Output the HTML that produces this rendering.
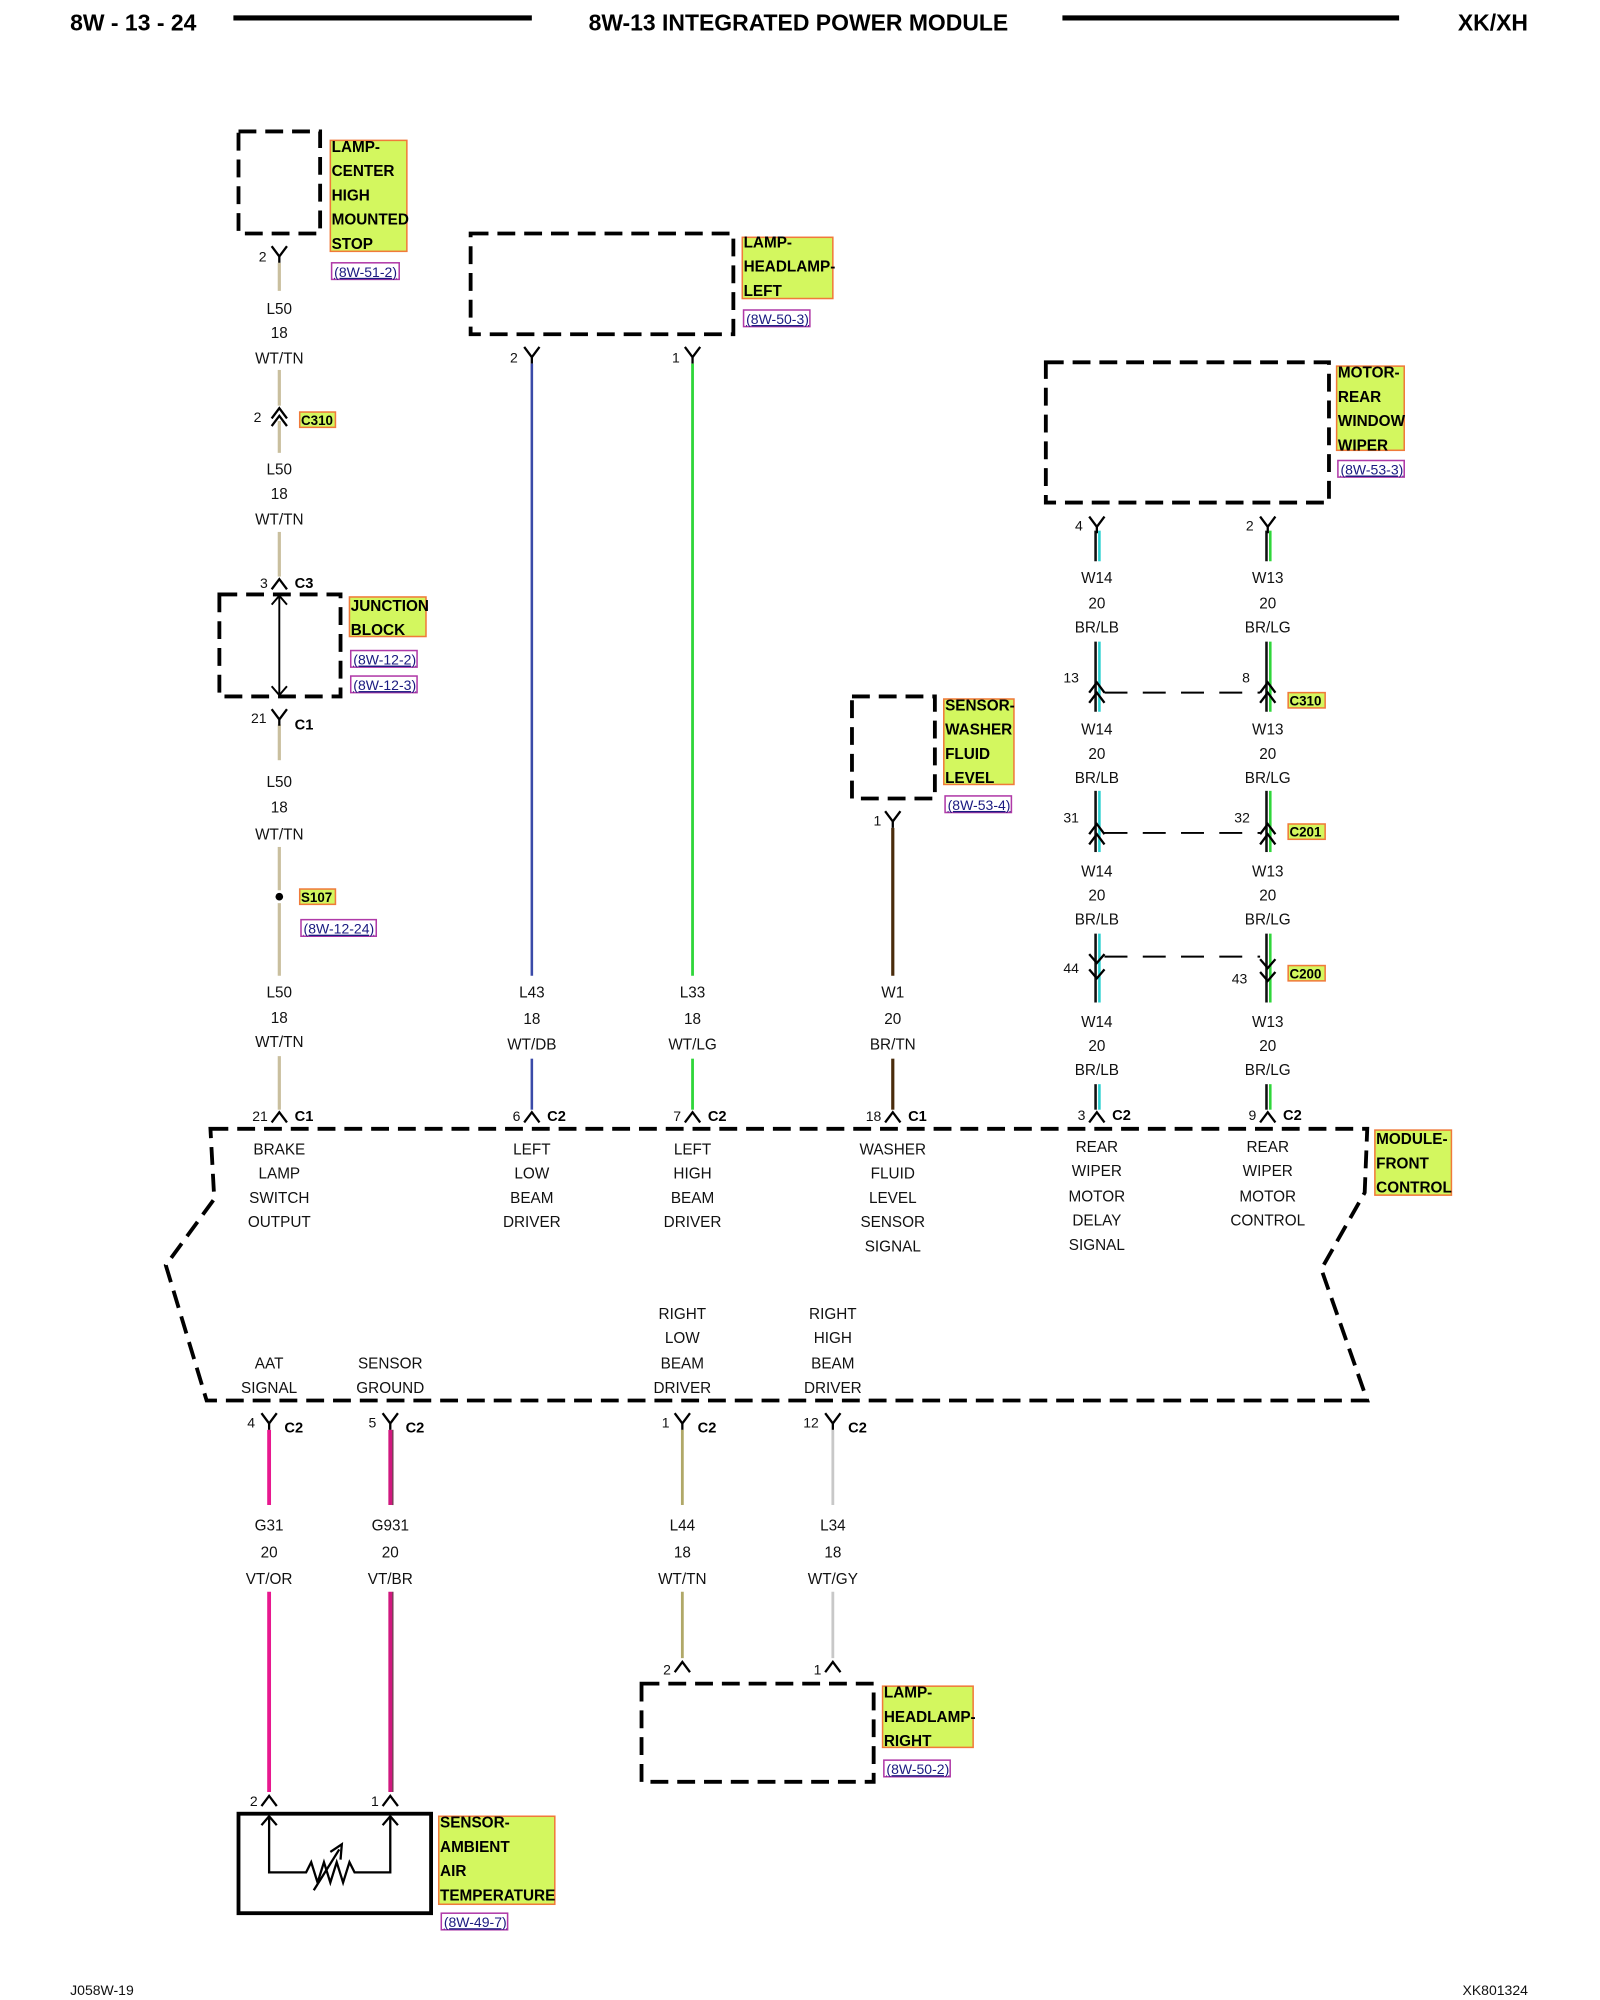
<!DOCTYPE html>
<html><head><meta charset="utf-8">
<style>
html,body{margin:0;padding:0;background:#fff;width:1600px;height:2000px;overflow:hidden}
svg{display:block}
.t{font-family:"Liberation Sans",sans-serif;font-size:12px;text-anchor:middle;fill:#111}
.n{font-family:"Liberation Sans",sans-serif;font-size:11px;text-anchor:end;fill:#111}
.c{font-family:"Liberation Sans",sans-serif;font-size:11.5px;font-weight:bold;fill:#000}
.lb{font-family:"Liberation Sans",sans-serif;font-size:12px;font-weight:bold;fill:#000}
.rf{font-family:"Liberation Sans",sans-serif;font-size:11px;fill:#1a1a80;text-decoration:underline}
.h{font-family:"Liberation Sans",sans-serif;font-size:18px;font-weight:bold;fill:#000}
.y{fill:#d3f75f;stroke:#f07a3a;stroke-width:1.2}
.r{fill:#fff;stroke:#b03aa8;stroke-width:1.2}
.d{fill:none;stroke:#000;stroke-width:3;stroke-dasharray:14,7}
.k{fill:none;stroke:#000;stroke-width:1.8}
</style></head><body>
<svg width="1600" height="2000" viewBox="0 0 1254.5 1568" xmlns="http://www.w3.org/2000/svg">
<defs>
<path id="Y" d="M-6,-6 L0,2 L6,-6 M0,2 V7" fill="none" stroke="#000" stroke-width="1.8"/>
<path id="A" d="M-6,5 L0,-3 L6,5" fill="none" stroke="#000" stroke-width="1.8"/>
</defs>
<!-- header -->
<text class="h" x="55" y="24">8W - 13 - 24</text>
<line x1="183" y1="14" x2="417" y2="14" stroke="#000" stroke-width="4"/>
<text class="h" x="626" y="24" text-anchor="middle">8W-13 INTEGRATED POWER MODULE</text>
<line x1="833" y1="14" x2="1097" y2="14" stroke="#000" stroke-width="4"/>
<text class="h" x="1198" y="24" text-anchor="end">XK/XH</text>
<text class="t" x="55" y="1564" style="text-anchor:start;font-size:11px">J058W-19</text>
<text class="t" x="1198" y="1564" style="text-anchor:end;font-size:11px">XK801324</text>

<!-- CHMSL -->
<rect class="d" x="187" y="103" width="64" height="80"/>
<rect class="y" x="259" y="110" width="60" height="87"/>
<text class="lb" x="260" y="119">LAMP-</text><text class="lb" x="260" y="138">CENTER</text><text class="lb" x="260" y="157">HIGH</text><text class="lb" x="260" y="176">MOUNTED</text><text class="lb" x="260" y="195">STOP</text>
<rect class="r" x="260" y="206" width="53" height="13"/><text class="rf" x="262" y="217">(8W-51-2)</text>
<use href="#Y" x="219" y="199"/><text class="n" x="209" y="205">2</text>
<g stroke="#c9bf9e" stroke-width="2.5">
<line x1="219" y1="206" x2="219" y2="228"/><line x1="219" y1="290" x2="219" y2="318"/><line x1="219" y1="330" x2="219" y2="355"/>
<line x1="219" y1="417" x2="219" y2="452"/><line x1="219" y1="568" x2="219" y2="596"/><line x1="219" y1="664" x2="219" y2="698"/>
<line x1="219" y1="708" x2="219" y2="765"/><line x1="219" y1="828" x2="219" y2="870"/>
</g>
<text class="t" x="219" y="246">L50</text><text class="t" x="219" y="265">18</text><text class="t" x="219" y="285">WT/TN</text>
<use href="#A" x="219" y="323"/><use href="#A" x="219" y="329"/><text class="n" x="205" y="331">2</text>
<rect class="y" x="235" y="323" width="28" height="12"/><text class="c" x="236" y="333" style="font-size:10.5px">C310</text>
<text class="t" x="219" y="372">L50</text><text class="t" x="219" y="391">18</text><text class="t" x="219" y="411">WT/TN</text>
<use href="#A" x="219" y="457"/><text class="n" x="210" y="461">3</text><text class="c" x="231" y="461">C3</text>
<rect class="d" x="172" y="466" width="95" height="80"/>
<line x1="219" y1="468" x2="219" y2="544" stroke="#000" stroke-width="1.5"/>
<path d="M213,474 L219,467 L225,474 M213,538 L219,545 L225,538" fill="none" stroke="#000" stroke-width="1.5"/>
<rect class="y" x="274" y="468" width="60" height="31"/>
<text class="lb" x="275" y="479">JUNCTION</text><text class="lb" x="275" y="498">BLOCK</text>
<rect class="r" x="275" y="510" width="52" height="13"/><text class="rf" x="277" y="521">(8W-12-2)</text>
<rect class="r" x="275" y="530" width="52" height="13"/><text class="rf" x="277" y="541">(8W-12-3)</text>
<use href="#Y" x="219" y="562"/><text class="n" x="209" y="567">21</text><text class="c" x="231" y="572">C1</text>
<text class="t" x="219" y="617">L50</text><text class="t" x="219" y="637">18</text><text class="t" x="219" y="658">WT/TN</text>
<circle cx="219" cy="703" r="3" fill="#000"/>
<rect class="y" x="235" y="697" width="28" height="12"/><text class="c" x="236" y="707" style="font-size:10.5px">S107</text>
<rect class="r" x="236" y="721" width="59" height="13"/><text class="rf" x="238" y="732">(8W-12-24)</text>
<text class="t" x="219" y="782">L50</text><text class="t" x="219" y="802">18</text><text class="t" x="219" y="821">WT/TN</text>
<use href="#A" x="219" y="875"/><text class="n" x="210" y="879">21</text><text class="c" x="231" y="879">C1</text>

<!-- Headlamp left -->
<rect class="d" x="369" y="183" width="206" height="79"/>
<rect class="y" x="582" y="186" width="71" height="48"/>
<text class="lb" x="583" y="194">LAMP-</text><text class="lb" x="583" y="213">HEADLAMP-</text><text class="lb" x="583" y="232">LEFT</text>
<rect class="r" x="583" y="243" width="52" height="13"/><text class="rf" x="585" y="254">(8W-50-3)</text>
<use href="#Y" x="417" y="278"/><text class="n" x="406" y="284">2</text>
<use href="#Y" x="543" y="278"/><text class="n" x="533" y="284">1</text>
<line x1="417" y1="285" x2="417" y2="765" stroke="#3a4aa8" stroke-width="2"/>
<line x1="543" y1="285" x2="543" y2="765" stroke="#2fd63a" stroke-width="2.2"/>
<line x1="417" y1="830" x2="417" y2="870" stroke="#3a4aa8" stroke-width="2"/>
<line x1="543" y1="830" x2="543" y2="870" stroke="#2fd63a" stroke-width="2.2"/>
<text class="t" x="417" y="782">L43</text><text class="t" x="417" y="803">18</text><text class="t" x="417" y="823">WT/DB</text>
<text class="t" x="543" y="782">L33</text><text class="t" x="543" y="803">18</text><text class="t" x="543" y="823">WT/LG</text>
<use href="#A" x="417" y="875"/><text class="n" x="408" y="879">6</text><text class="c" x="429" y="879">C2</text>
<use href="#A" x="543" y="875"/><text class="n" x="534" y="879">7</text><text class="c" x="555" y="879">C2</text>

<!-- Washer sensor -->
<rect class="d" x="668" y="546" width="65" height="80"/>
<rect class="y" x="740" y="548" width="55" height="67"/>
<text class="lb" x="741" y="557">SENSOR-</text><text class="lb" x="741" y="576">WASHER</text><text class="lb" x="741" y="595">FLUID</text><text class="lb" x="741" y="614">LEVEL</text>
<rect class="r" x="741" y="624" width="52" height="13"/><text class="rf" x="743" y="635">(8W-53-4)</text>
<use href="#Y" x="700" y="642"/><text class="n" x="691" y="647">1</text>
<line x1="700" y1="649" x2="700" y2="765" stroke="#4a2c0c" stroke-width="2.5"/>
<line x1="700" y1="830" x2="700" y2="870" stroke="#4a2c0c" stroke-width="2.5"/>
<text class="t" x="700" y="782">W1</text><text class="t" x="700" y="803">20</text><text class="t" x="700" y="823">BR/TN</text>
<use href="#A" x="700" y="875"/><text class="n" x="691" y="879">18</text><text class="c" x="712" y="879">C1</text>

<!-- Motor rear wiper -->
<rect class="d" x="820" y="284" width="222" height="110"/>
<rect class="y" x="1048" y="287" width="53" height="66"/>
<text class="lb" x="1049" y="296">MOTOR-</text><text class="lb" x="1049" y="315">REAR</text><text class="lb" x="1049" y="334">WINDOW</text><text class="lb" x="1049" y="353">WIPER</text>
<rect class="r" x="1049" y="361" width="52" height="13"/><text class="rf" x="1051" y="372">(8W-53-3)</text>
<g>
<line x1="862" y1="416" x2="862" y2="440" stroke="#28d0d0" stroke-width="2"/><line x1="859" y1="416" x2="859" y2="440" stroke="#111" stroke-width="2"/>
<line x1="996" y1="416" x2="996" y2="440" stroke="#2fd63a" stroke-width="2"/><line x1="993" y1="416" x2="993" y2="440" stroke="#111" stroke-width="2"/>
<line x1="862" y1="503" x2="862" y2="558" stroke="#28d0d0" stroke-width="2"/><line x1="859" y1="503" x2="859" y2="558" stroke="#111" stroke-width="2"/>
<line x1="996" y1="503" x2="996" y2="558" stroke="#2fd63a" stroke-width="2"/><line x1="993" y1="503" x2="993" y2="558" stroke="#111" stroke-width="2"/>
<line x1="862" y1="620" x2="862" y2="668" stroke="#28d0d0" stroke-width="2"/><line x1="859" y1="620" x2="859" y2="668" stroke="#111" stroke-width="2"/>
<line x1="996" y1="620" x2="996" y2="668" stroke="#2fd63a" stroke-width="2"/><line x1="993" y1="620" x2="993" y2="668" stroke="#111" stroke-width="2"/>
<line x1="862" y1="732" x2="862" y2="786" stroke="#28d0d0" stroke-width="2"/><line x1="859" y1="732" x2="859" y2="786" stroke="#111" stroke-width="2"/>
<line x1="996" y1="732" x2="996" y2="786" stroke="#2fd63a" stroke-width="2"/><line x1="993" y1="732" x2="993" y2="786" stroke="#111" stroke-width="2"/>
<line x1="862" y1="850" x2="862" y2="870" stroke="#28d0d0" stroke-width="2"/><line x1="859" y1="850" x2="859" y2="870" stroke="#111" stroke-width="2"/>
<line x1="996" y1="850" x2="996" y2="870" stroke="#2fd63a" stroke-width="2"/><line x1="993" y1="850" x2="993" y2="870" stroke="#111" stroke-width="2"/>
</g>
<use href="#Y" x="860" y="411"/><text class="n" x="849" y="416">4</text>
<use href="#Y" x="994" y="411"/><text class="n" x="983" y="416">2</text>
<text class="t" x="860" y="457">W14</text><text class="t" x="860" y="477">20</text><text class="t" x="860" y="496">BR/LB</text>
<text class="t" x="994" y="457">W13</text><text class="t" x="994" y="477">20</text><text class="t" x="994" y="496">BR/LG</text>
<!-- C310 -->
<use href="#A" x="860" y="538"/><use href="#A" x="860" y="546"/><use href="#A" x="994" y="538"/><use href="#A" x="994" y="546"/>
<line x1="866" y1="543" x2="988" y2="543" stroke="#000" stroke-width="1.5" stroke-dasharray="18,12"/>
<text class="n" x="846" y="535">13</text><text class="n" x="980" y="535">8</text>
<rect class="y" x="1010" y="543" width="29" height="12"/><text class="c" x="1011" y="553" style="font-size:10.5px">C310</text>
<text class="t" x="860" y="576">W14</text><text class="t" x="860" y="595">20</text><text class="t" x="860" y="614">BR/LB</text>
<text class="t" x="994" y="576">W13</text><text class="t" x="994" y="595">20</text><text class="t" x="994" y="614">BR/LG</text>
<!-- C201 -->
<use href="#A" x="860" y="649"/><use href="#A" x="860" y="657"/><use href="#A" x="994" y="649"/><use href="#A" x="994" y="657"/>
<line x1="866" y1="653" x2="988" y2="653" stroke="#000" stroke-width="1.5" stroke-dasharray="18,12"/>
<text class="n" x="846" y="645">31</text><text class="n" x="980" y="645">32</text>
<rect class="y" x="1010" y="646" width="29" height="12"/><text class="c" x="1011" y="656" style="font-size:10.5px">C201</text>
<text class="t" x="860" y="687">W14</text><text class="t" x="860" y="706">20</text><text class="t" x="860" y="725">BR/LB</text>
<text class="t" x="994" y="687">W13</text><text class="t" x="994" y="706">20</text><text class="t" x="994" y="725">BR/LG</text>
<!-- C200 -->
<path d="M854,748 L860,755 L866,748 M854,760 L860,767 L866,760" fill="none" stroke="#000" stroke-width="1.8"/>
<path d="M988,752 L994,759 L1000,752 M988,762 L994,769 L1000,762" fill="none" stroke="#000" stroke-width="1.8"/>
<line x1="866" y1="750" x2="988" y2="750" stroke="#000" stroke-width="1.5" stroke-dasharray="18,12"/>
<text class="n" x="846" y="763">44</text><text class="n" x="978" y="771">43</text>
<rect class="y" x="1010" y="757" width="29" height="12"/><text class="c" x="1011" y="767" style="font-size:10.5px">C200</text>
<text class="t" x="860" y="805">W14</text><text class="t" x="860" y="824">20</text><text class="t" x="860" y="843">BR/LB</text>
<text class="t" x="994" y="805">W13</text><text class="t" x="994" y="824">20</text><text class="t" x="994" y="843">BR/LG</text>
<use href="#A" x="860" y="875"/><text class="n" x="851" y="878">3</text><text class="c" x="872" y="878">C2</text>
<use href="#A" x="994" y="875"/><text class="n" x="985" y="878">9</text><text class="c" x="1006" y="878">C2</text>

<!-- Module -->
<path class="d" d="M165,885 L1072,885 L1070,935 L1036,995 L1072,1098 L162,1098 L130,992 L168,940 Z"/>
<rect class="y" x="1078" y="886" width="60" height="51"/>
<text class="lb" x="1079" y="897">MODULE-</text><text class="lb" x="1079" y="916">FRONT</text><text class="lb" x="1079" y="935">CONTROL</text>
<g class="t">
<text class="t" x="219" y="905">BRAKE</text><text class="t" x="219" y="924">LAMP</text><text class="t" x="219" y="943">SWITCH</text><text class="t" x="219" y="962">OUTPUT</text>
<text class="t" x="417" y="905">LEFT</text><text class="t" x="417" y="924">LOW</text><text class="t" x="417" y="943">BEAM</text><text class="t" x="417" y="962">DRIVER</text>
<text class="t" x="543" y="905">LEFT</text><text class="t" x="543" y="924">HIGH</text><text class="t" x="543" y="943">BEAM</text><text class="t" x="543" y="962">DRIVER</text>
<text class="t" x="700" y="905">WASHER</text><text class="t" x="700" y="924">FLUID</text><text class="t" x="700" y="943">LEVEL</text><text class="t" x="700" y="962">SENSOR</text><text class="t" x="700" y="981">SIGNAL</text>
<text class="t" x="860" y="903">REAR</text><text class="t" x="860" y="922">WIPER</text><text class="t" x="860" y="942">MOTOR</text><text class="t" x="860" y="961">DELAY</text><text class="t" x="860" y="980">SIGNAL</text>
<text class="t" x="994" y="903">REAR</text><text class="t" x="994" y="922">WIPER</text><text class="t" x="994" y="942">MOTOR</text><text class="t" x="994" y="961">CONTROL</text>
<text class="t" x="211" y="1073">AAT</text><text class="t" x="211" y="1092">SIGNAL</text>
<text class="t" x="306" y="1073">SENSOR</text><text class="t" x="306" y="1092">GROUND</text>
<text class="t" x="535" y="1034">RIGHT</text><text class="t" x="535" y="1053">LOW</text><text class="t" x="535" y="1073">BEAM</text><text class="t" x="535" y="1092">DRIVER</text>
<text class="t" x="653" y="1034">RIGHT</text><text class="t" x="653" y="1053">HIGH</text><text class="t" x="653" y="1073">BEAM</text><text class="t" x="653" y="1092">DRIVER</text>
</g>

<!-- bottom pins -->
<use href="#Y" x="211" y="1114"/><text class="n" x="200" y="1119">4</text><text class="c" x="223" y="1123">C2</text>
<use href="#Y" x="306" y="1114"/><text class="n" x="295" y="1119">5</text><text class="c" x="318" y="1123">C2</text>
<use href="#Y" x="535" y="1114"/><text class="n" x="525" y="1119">1</text><text class="c" x="547" y="1123">C2</text>
<use href="#Y" x="653" y="1114"/><text class="n" x="642" y="1119">12</text><text class="c" x="665" y="1123">C2</text>
<g stroke-width="3">
<line x1="211" y1="1121" x2="211" y2="1180" stroke="#e8188f"/><line x1="211" y1="1248" x2="211" y2="1405" stroke="#e8188f"/>
<line x1="306" y1="1121" x2="306" y2="1180" stroke="#d0187f"/><line x1="306" y1="1248" x2="306" y2="1405" stroke="#d0187f"/>
</g>
<line x1="308" y1="1121" x2="308" y2="1180" stroke="#6a2040" stroke-width="1"/><line x1="308" y1="1248" x2="308" y2="1405" stroke="#6a2040" stroke-width="1"/>
<line x1="535" y1="1121" x2="535" y2="1180" stroke="#b0a868" stroke-width="2.2"/><line x1="535" y1="1248" x2="535" y2="1300" stroke="#b0a868" stroke-width="2.2"/>
<line x1="653" y1="1121" x2="653" y2="1180" stroke="#c8c8c8" stroke-width="2.2"/><line x1="653" y1="1248" x2="653" y2="1300" stroke="#c8c8c8" stroke-width="2.2"/>
<text class="t" x="211" y="1200">G31</text><text class="t" x="211" y="1221">20</text><text class="t" x="211" y="1242">VT/OR</text>
<text class="t" x="306" y="1200">G931</text><text class="t" x="306" y="1221">20</text><text class="t" x="306" y="1242">VT/BR</text>
<text class="t" x="535" y="1200">L44</text><text class="t" x="535" y="1221">18</text><text class="t" x="535" y="1242">WT/TN</text>
<text class="t" x="653" y="1200">L34</text><text class="t" x="653" y="1221">18</text><text class="t" x="653" y="1242">WT/GY</text>

<!-- Headlamp right -->
<use href="#A" x="535" y="1306"/><text class="n" x="526" y="1313">2</text>
<use href="#A" x="653" y="1306"/><text class="n" x="644" y="1313">1</text>
<rect class="d" x="503" y="1320" width="182" height="77"/>
<rect class="y" x="692" y="1322" width="71" height="48"/>
<text class="lb" x="693" y="1331">LAMP-</text><text class="lb" x="693" y="1350">HEADLAMP-</text><text class="lb" x="693" y="1369">RIGHT</text>
<rect class="r" x="693" y="1380" width="52" height="13"/><text class="rf" x="695" y="1391">(8W-50-2)</text>

<!-- Ambient sensor -->
<use href="#A" x="211" y="1411"/><text class="n" x="202" y="1416">2</text>
<use href="#A" x="306" y="1411"/><text class="n" x="297" y="1416">1</text>
<rect x="187" y="1422" width="151" height="78" fill="none" stroke="#000" stroke-width="3"/>
<path d="M205,1431 L211,1424 L217,1431 M211,1424 V1468 H240 L244,1460 L249,1476 L254,1460 L259,1476 L264,1460 L269,1476 L274,1460 L278,1468 H306 V1424 M300,1431 L306,1424 L312,1431" class="k"/>
<path d="M246,1482 L266,1450 M259,1452 L268,1446 L267,1458" fill="none" stroke="#000" stroke-width="1.8"/>
<rect class="y" x="344" y="1424" width="91" height="69"/>
<text class="lb" x="345" y="1433">SENSOR-</text><text class="lb" x="345" y="1452">AMBIENT</text><text class="lb" x="345" y="1471">AIR</text><text class="lb" x="345" y="1490">TEMPERATURE</text>
<rect class="r" x="346" y="1500" width="52" height="13"/><text class="rf" x="348" y="1511">(8W-49-7)</text>
</svg>
</body></html>
